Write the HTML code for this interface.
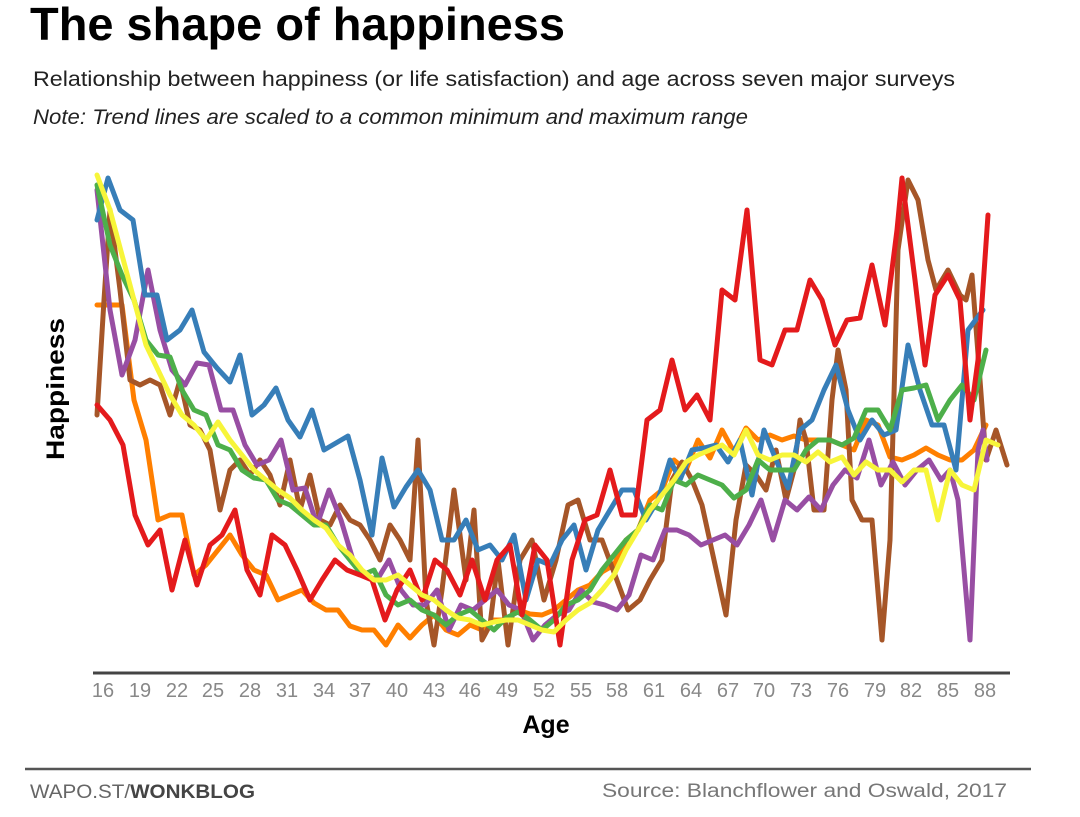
<!DOCTYPE html>
<html><head><meta charset="utf-8"><style>
html,body{margin:0;padding:0;background:#fff;}
svg{display:block;}
text{font-family:"Liberation Sans",sans-serif;}
</style></head><body>
<svg width="1080" height="817" viewBox="0 0 1080 817" xmlns="http://www.w3.org/2000/svg">
<text x="30" y="40" font-size="46" font-weight="bold" textLength="535" lengthAdjust="spacingAndGlyphs" fill="#000">The shape of happiness</text>
<text x="33" y="86" font-size="21" textLength="922" lengthAdjust="spacingAndGlyphs" fill="#222">Relationship between happiness (or life satisfaction) and age across seven major surveys</text>
<text x="33" y="124" font-size="21" font-style="italic" textLength="715" lengthAdjust="spacingAndGlyphs" fill="#222">Note: Trend lines are scaled to a common minimum and maximum range</text>
<text transform="translate(64,389) rotate(-90)" text-anchor="middle" font-size="25" font-weight="bold" textLength="142" lengthAdjust="spacingAndGlyphs" fill="#000">Happiness</text>
<line x1="93" y1="673" x2="1010" y2="673" stroke="#444" stroke-width="3"/>
<g font-size="20" fill="#888" text-anchor="middle">
<text x="103" y="697">16</text><text x="140" y="697">19</text><text x="177" y="697">22</text><text x="213" y="697">25</text><text x="250" y="697">28</text><text x="287" y="697">31</text><text x="324" y="697">34</text><text x="360" y="697">37</text><text x="397" y="697">40</text><text x="434" y="697">43</text><text x="470" y="697">46</text><text x="507" y="697">49</text><text x="544" y="697">52</text><text x="581" y="697">55</text><text x="617" y="697">58</text><text x="654" y="697">61</text><text x="691" y="697">64</text><text x="728" y="697">67</text><text x="764" y="697">70</text><text x="801" y="697">73</text><text x="838" y="697">76</text><text x="875" y="697">79</text><text x="911" y="697">82</text><text x="948" y="697">85</text><text x="985" y="697">88</text>
</g>
<text x="546" y="733" text-anchor="middle" font-size="25" font-weight="bold" fill="#000">Age</text>
<line x1="25" y1="769" x2="1031" y2="769" stroke="#555" stroke-width="2.5"/>
<text x="30" y="798" font-size="19" fill="#666" textLength="225" lengthAdjust="spacingAndGlyphs">WAPO.ST/<tspan font-weight="bold" fill="#444">WONKBLOG</tspan></text>
<text x="1007" y="797" text-anchor="end" font-size="19" fill="#777" textLength="405" lengthAdjust="spacingAndGlyphs">Source: Blanchflower and Oswald, 2017</text>
<g fill="none" stroke-width="5" stroke-linejoin="round" stroke-linecap="round">
<polyline stroke="#ff7f00" points="97,305 110,305 122,305 134,400 146,440 158,520 170,515 182,515 194,575 206,565 218,550 230,535 242,555 254,570 266,575 278,600 290,595 302,590 314,603 326,610 338,610 350,626 362,630 374,630 386,645 398,625 410,638 422,625 434,615 446,630 458,635 470,625 482,630 494,620 506,620 518,610 530,614 542,615 554,610 566,600 578,590 590,585 602,572 614,565 626,540 638,530 650,500 662,490 674,460 686,470 698,440 710,458 722,430 734,452 746,428 758,440 770,435 782,440 794,436 806,440 818,440 830,440 842,445 854,450 866,420 878,425 890,457 902,460 914,455 926,448 938,455 950,460 962,460 974,450 986,425"/>
<polyline stroke="#a65628" points="97,415 104,300 110,210 120,290 130,380 140,385 150,380 160,385 170,415 180,380 190,425 200,430 210,450 220,510 230,470 240,460 250,475 260,460 270,475 280,505 290,460 300,510 310,475 320,520 330,525 340,505 350,520 360,525 370,540 380,560 390,525 400,540 410,560 418,440 426,600 434,645 442,590 454,490 466,580 474,510 482,640 490,625 498,560 508,645 520,560 532,540 544,600 556,560 568,505 578,500 590,540 602,540 615,575 628,610 640,600 650,580 662,560 672,480 682,462 692,480 702,505 714,560 726,615 736,520 746,465 756,475 766,490 776,450 786,500 794,470 800,420 806,440 814,510 824,510 832,400 838,350 846,390 852,500 862,520 872,520 882,640 890,540 898,250 908,180 918,200 928,260 936,290 948,270 960,295 966,300 972,275 980,380 986,460 996,430 1007,465"/>
<polyline stroke="#984ea3" points="97,190 110,310 122,375 135,340 148,270 160,330 172,370 185,385 197,363 209,365 221,410 233,410 245,445 257,465 269,460 281,440 293,490 305,488 317,525 329,490 341,520 353,560 365,575 377,580 389,560 401,590 413,605 425,605 437,590 449,630 461,605 473,610 485,600 497,590 509,605 521,610 533,640 545,625 557,615 569,610 581,590 593,602 605,605 617,610 629,595 641,555 653,560 665,530 677,530 689,535 701,545 713,540 725,535 737,545 749,525 761,500 773,540 785,500 797,510 809,497 821,510 833,485 845,470 857,478 869,440 881,485 893,462 905,485 917,470 929,460 941,480 950,470 958,500 970,640 978,450 983,430 987,460"/>
<polyline stroke="#377eb8" points="97,220 108,178 120,210 133,220 145,295 157,295 167,340 180,330 192,310 204,352 217,368 230,382 240,355 252,415 264,405 276,388 288,420 300,437 312,410 324,450 336,443 348,436 360,480 372,535 382,458 394,507 406,487 418,470 430,490 442,540 454,540 466,520 478,550 490,545 502,560 514,535 526,600 538,560 550,565 562,540 574,525 586,570 598,530 610,510 622,490 634,490 646,520 658,500 670,460 680,480 692,450 704,448 716,445 728,462 740,440 752,495 764,430 776,460 788,488 800,430 812,420 824,390 836,365 848,410 860,440 872,420 884,435 896,430 908,345 920,390 932,425 944,425 956,470 968,330 983,310"/>
<polyline stroke="#4daf4a" points="97,185 110,245 122,275 134,300 146,340 158,355 170,357 182,390 194,410 206,415 218,445 230,450 242,470 254,478 266,480 278,500 290,505 302,515 314,525 326,525 338,545 350,560 362,575 374,570 386,595 398,605 410,600 422,610 434,615 446,625 458,615 470,610 482,620 494,630 506,618 518,612 530,620 542,630 554,620 566,605 578,600 590,590 602,570 614,555 626,540 638,530 650,505 662,510 674,480 686,485 698,475 710,480 722,485 734,498 746,490 758,460 770,470 782,470 794,470 806,450 818,440 830,440 842,445 854,438 866,410 878,410 890,430 902,390 914,388 926,385 938,420 950,400 962,385 974,400 986,350"/>
<polyline stroke="#e41a1c" points="97,405 110,420 123,445 135,515 148,545 160,530 172,590 185,540 197,585 210,545 222,535 235,510 247,570 260,595 272,535 285,545 297,570 310,600 322,580 335,560 347,570 360,575 372,580 385,620 397,590 410,570 422,600 435,560 447,570 460,595 472,560 485,600 497,560 510,545 522,615 535,545 547,560 560,645 572,560 585,520 597,515 610,470 622,515 635,515 647,420 660,410 672,360 685,410 697,395 710,420 722,290 735,300 747,210 760,360 772,365 785,330 797,330 810,280 822,300 835,345 847,320 860,318 872,265 885,325 897,230 902,178 915,280 925,365 935,295 948,275 960,300 970,420 978,360 988,215"/>
<polyline stroke="#f7f53a" stroke-width="5" points="97,175 110,210 122,255 134,300 146,345 158,370 170,395 182,415 194,425 206,440 218,422 230,440 242,455 254,470 266,480 278,490 290,498 302,510 314,520 326,528 338,545 350,555 362,570 374,580 386,580 398,575 410,585 422,595 434,600 446,610 458,618 470,620 482,625 494,622 506,620 518,620 530,625 542,630 554,632 566,620 578,610 590,603 602,590 614,575 626,550 638,530 650,510 662,495 674,480 686,462 698,455 710,450 722,445 734,455 746,430 758,455 770,460 782,455 794,455 806,462 818,452 830,462 842,457 854,475 866,462 878,470 890,470 902,482 914,470 926,470 938,520 950,470 962,485 974,490 986,440 998,445"/>
</g>
</svg>
</body></html>
